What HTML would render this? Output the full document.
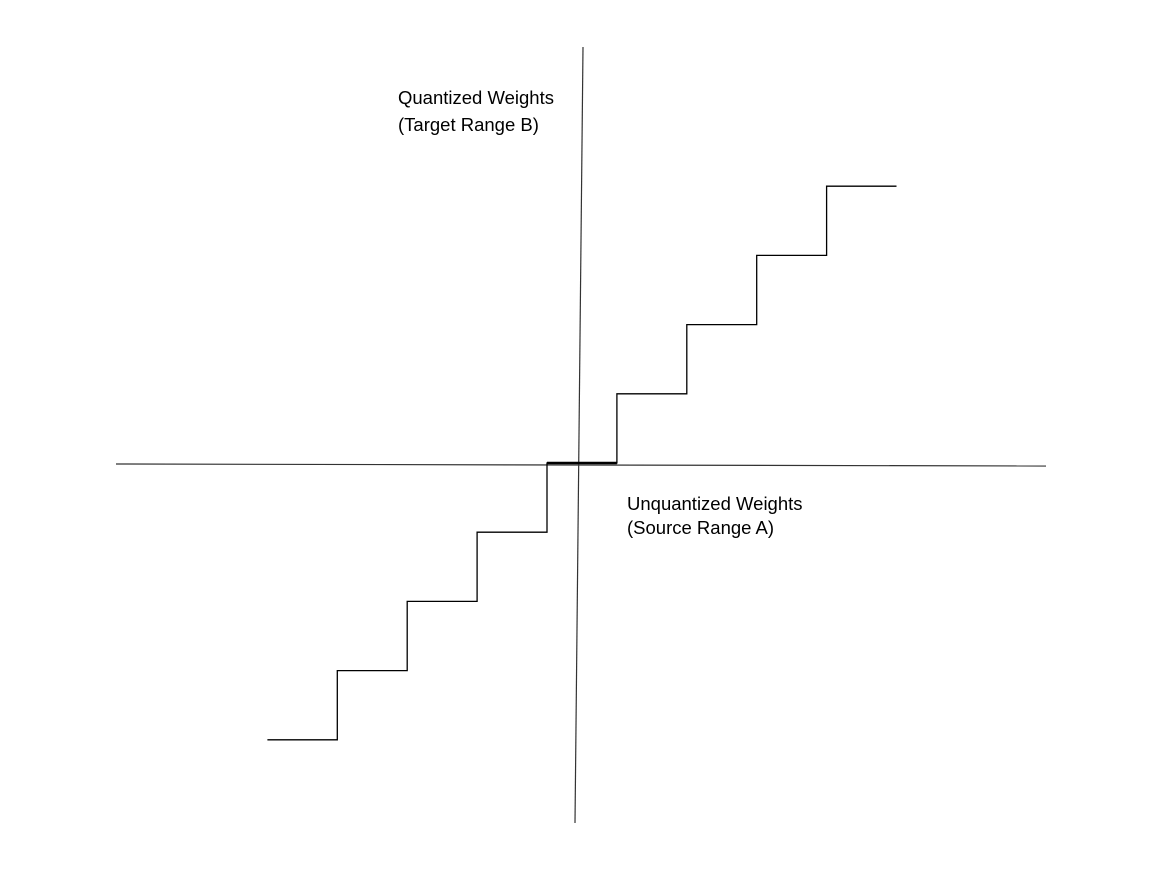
<!DOCTYPE html>
<html><head><meta charset="utf-8"><style>
body{margin:0;background:#fff;}
svg text{font-family:"Liberation Sans",sans-serif;font-size:18.5px;fill:#000;}
</style></head><body>
<svg width="1152" height="864">
<line x1="116" y1="464" x2="1046" y2="466" stroke="#333" stroke-width="1.2"/>
<line x1="583" y1="47" x2="575" y2="823" stroke="#333" stroke-width="1.2"/>
<text x="398" y="104">Quantized Weights</text>
<text x="398" y="131">(Target Range B)</text>
<text x="627" y="510">Unquantized Weights</text>
<text x="627" y="534">(Source Range A)</text>
<g id="steps"></g>
</svg>
<script>
const stepStarts = [-4,-3,-2,-1,0,1,2,3,4];
const stepEnds = [-3,-2,-1,0,1,2,3,4,5];
const levels = [-4,-3,-2,-1,0,1,2,3,4];
function xs(v){return 547 + v*69.9;}
function ys(v){return 463 - v*69.2;}
const g=document.getElementById('steps');
let d='';
for(let i=0;i<levels.length;i++){
  const x0=xs(stepStarts[i]), x1=xs(stepEnds[i]), y=ys(levels[i]);
  d += (i===0?'M':'L')+x0+','+y+' L'+x1+','+y+' ';
}
const p=document.createElementNS('http://www.w3.org/2000/svg','path');
p.setAttribute('d',d);
p.setAttribute('fill','none');
p.setAttribute('stroke','#000');
p.setAttribute('stroke-width','1.3');


g.appendChild(p);
const z=document.createElementNS('http://www.w3.org/2000/svg','line');
z.setAttribute('x1',xs(0));z.setAttribute('x2',xs(1));
z.setAttribute('y1',ys(0));z.setAttribute('y2',ys(0));
z.setAttribute('stroke','#000');z.setAttribute('stroke-width','2.5');


g.appendChild(z);
</script>
</body></html>
